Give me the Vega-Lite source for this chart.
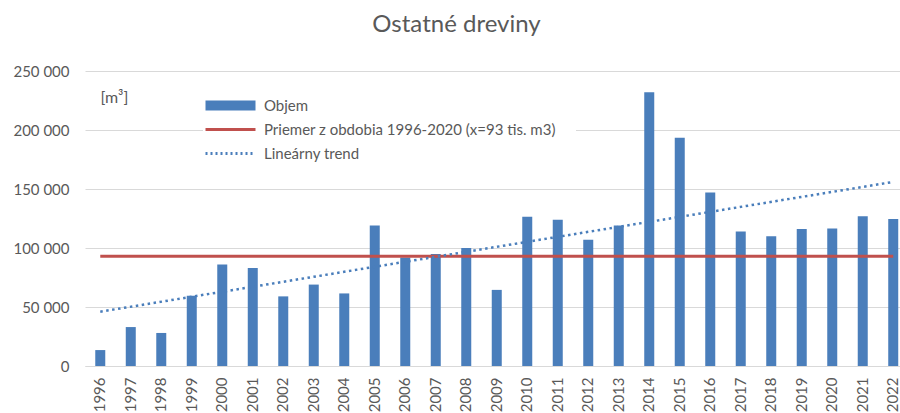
{
  "$schema": "https://vega.github.io/schema/vega-lite/v6.json",
  "autosize": {"type": "none"},
  "padding": {"left": 85, "top": 71, "right": 0, "bottom": 47},
  "width": 815,
  "height": 295,
  "background": "white",
  "title": {
    "text": "Ostatné dreviny",
    "font": "Lato",
    "fontSize": 24,
    "fontWeight": "normal",
    "color": "#595959",
    "anchor": "middle",
    "dx": -36,
    "baseline": "alphabetic",
    "offset": 8
  },
  "config": {
    "view": {"stroke": null},
    "font": "Lato"
  },
  "data": {
    "values": [
      {"rok": "1996", "objem": 13500},
      {"rok": "1997", "objem": 33000},
      {"rok": "1998", "objem": 28000},
      {"rok": "1999", "objem": 59500},
      {"rok": "2000", "objem": 86000},
      {"rok": "2001", "objem": 83000},
      {"rok": "2002", "objem": 59000},
      {"rok": "2003", "objem": 69000},
      {"rok": "2004", "objem": 61500},
      {"rok": "2005", "objem": 119000},
      {"rok": "2006", "objem": 92000},
      {"rok": "2007", "objem": 95000},
      {"rok": "2008", "objem": 100000},
      {"rok": "2009", "objem": 64500},
      {"rok": "2010", "objem": 126500},
      {"rok": "2011", "objem": 124000},
      {"rok": "2012", "objem": 107000},
      {"rok": "2013", "objem": 119000},
      {"rok": "2014", "objem": 232000},
      {"rok": "2015", "objem": 193500},
      {"rok": "2016", "objem": 147000},
      {"rok": "2017", "objem": 114000},
      {"rok": "2018", "objem": 110000},
      {"rok": "2019", "objem": 116000},
      {"rok": "2020", "objem": 116500},
      {"rok": "2021", "objem": 127000},
      {"rok": "2022", "objem": 124500}
    ]
  },
  "encoding": {
    "x": {
      "field": "rok",
      "type": "ordinal",
      "scale": {"paddingInner": 0.672, "paddingOuter": 0.197, "align": 0.854},
      "axis": {
        "title": null,
        "labelAngle": -90,
        "labelAlign": "right",
        "labelBaseline": "middle",
        "labelFont": "Lato",
        "labelFontSize": 15,
        "labelColor": "#595959",
        "labelPadding": 11,
        "ticks": false,
        "domainColor": "#d9d9d9",
        "domainWidth": 1,
        "grid": false
      }
    }
  },
  "layer": [
    {
      "mark": {"type": "bar"},
      "encoding": {
        "y": {
          "field": "objem",
          "type": "quantitative",
          "scale": {"domain": [0, 250000], "nice": false},
          "axis": {
            "values": [0, 50000, 100000, 150000, 200000, 250000],
            "labelExpr": "replace(format(datum.value, ','), ',', ' ')",
            "labelFont": "Lato",
            "labelFontSize": 15,
            "labelColor": "#595959",
            "labelPadding": 16,
            "ticks": false,
            "domain": false,
            "gridColor": "#d9d9d9",
            "gridWidth": 1,
            "title": "[m³]",
            "titleAngle": 0,
            "titleAlign": "left",
            "titleBaseline": "middle",
            "titleX": 15,
            "titleY": 26,
            "titleFont": "Lato",
            "titleFontSize": 16,
            "titleFontWeight": "normal",
            "titleColor": "#595959"
          }
        },
        "color": {
          "datum": "Objem",
          "type": "nominal",
          "scale": {
            "domain": ["Objem", "Priemer z obdobia 1996-2020 (x=93 tis. m3)", "Lineárny trend"],
            "range": ["#4a7ebb", "#c0504d", "#4a7ebb"]
          },
          "legend": {
            "title": null,
            "orient": "none",
            "legendX": 118,
            "legendY": 7,
            "padding": 20,
            "fillColor": "white",
            "symbolSize": 100,
            "symbolType": "M-5,0H5",
            "labelFont": "Lato",
            "labelFontSize": 15,
            "labelColor": "#595959",
            "labelOffset": 26,
            "rowPadding": 8,
            "labelLimit": 400,
            "encode": {
              "symbols": {
                "update": {
                  "shape": {"signal": "datum.value === 'Objem' ? 'M-5,-1H5V1H-5Z' : 'M-5,0H5'"},
                  "size": {"value": 100},
                  "fill": {"signal": "datum.value === 'Objem' ? '#4a7ebb' : 'transparent'"},
                  "opacity": {"value": 1},
                  "stroke": {"signal": "datum.value === 'Lineárny trend' ? '#4a7ebb' : '#c0504d'"},
                  "strokeWidth": {"signal": "datum.value === 'Objem' ? 0 : 3"},
                  "strokeDash": {"signal": "datum.value === 'Lineárny trend' ? [2, 3] : [1, 0]"}
                }
              }
            }
          }
        }
      }
    },
    {
      "data": {
        "values": [
          {"rok": "1996", "priemer": 93000},
          {"rok": "2022", "priemer": 93000}
        ]
      },
      "mark": {"type": "line", "strokeWidth": 3},
      "encoding": {
        "y": {"field": "priemer", "type": "quantitative"},
        "color": {"datum": "Priemer z obdobia 1996-2020 (x=93 tis. m3)", "type": "nominal"}
      }
    },
    {
      "data": {
        "values": [
          {"rok": "1996", "trend": 46000},
          {"rok": "2022", "trend": 156000}
        ]
      },
      "mark": {"type": "line", "strokeWidth": 2.5, "strokeDash": [2.5, 3.5]},
      "encoding": {
        "y": {"field": "trend", "type": "quantitative"},
        "color": {"datum": "Lineárny trend", "type": "nominal"}
      }
    }
  ]
}
